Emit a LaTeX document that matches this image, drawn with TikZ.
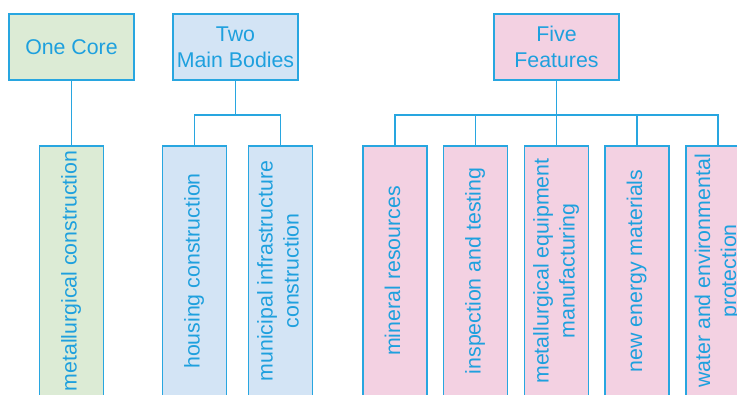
\documentclass[tikz,border=0pt]{standalone}
\usepackage{fontspec}
\setmainfont{Liberation Sans}
\usepackage{graphicx}
\definecolor{txt}{RGB}{30,160,222}
\definecolor{ln}{RGB}{40,166,224}
\definecolor{gfill}{RGB}{220,235,213}
\definecolor{bfill}{RGB}{211,228,245}
\definecolor{pfill}{RGB}{243,209,226}
\tikzset{
  topbox/.style={draw=ln, line width=0.9pt, text=txt, minimum width=93.75pt, minimum height=49.5pt, inner sep=0pt, align=center, font=\fontsize{16}{19.5}\selectfont},
  kidbox/.style={draw=ln, line width=0.9pt, text=txt, minimum width=48pt, minimum height=187.5pt, inner sep=0pt, font=\fontsize{16}{19.5}\selectfont},
  conn/.style={draw=ln, line width=0.9pt}
}
\newcommand{\vtext}[1]{\rotatebox{90}{\begin{tabular}{@{}c@{}}#1\end{tabular}}}
\begin{document}
\begin{tikzpicture}[x=0.75pt,y=-0.75pt]
\useasboundingbox (0,0) rectangle (737,394);
\clip (0,0) rectangle (737,394);
% top boxes
\node[topbox, fill=gfill] (one) at (71.5,47) {One Core};
\node[topbox, fill=bfill] (two) at (235.5,47) {Two\\Main Bodies};
\node[topbox, fill=pfill] (five) at (556.5,47) {Five\\Features};
% children
\node[kidbox, fill=gfill] (metal) at (71.5,271) {\vtext{metallurgical construction}};
\node[kidbox, fill=bfill] (house) at (194.5,271) {\vtext{housing construction}};
\node[kidbox, fill=bfill] (muni) at (280.5,271) {\vtext{municipal infrastructure\\construction}};
\node[kidbox, fill=pfill] (mine) at (395,271) {\vtext{mineral resources}};
\node[kidbox, fill=pfill] (insp) at (475.5,271) {\vtext{inspection and testing}};
\node[kidbox, fill=pfill] (equip) at (556.5,271) {\vtext{metallurgical equipment\\manufacturing}};
\node[kidbox, fill=pfill] (energy) at (637,271) {\vtext{new energy materials}};
\node[kidbox, fill=pfill] (water) at (718,271) {\vtext{water and environmental\\protection}};
% junctions
\coordinate (twoj) at (235.5,115);
\coordinate (fivej) at (556.5,115);
% connectors
\draw[conn] (one.south) -- (metal.north);
\draw[conn] (two.south) -- (twoj);
\draw[conn] (house.north) -- (house.north |- twoj) -- (muni.north |- twoj) -- (muni.north);
\draw[conn] (five.south) -- (fivej);
\draw[conn] (mine.north) -- (mine.north |- fivej) -- (water.north |- fivej) -- (water.north);
\draw[conn] (insp.north) -- (insp.north |- fivej);
\draw[conn] (equip.north) -- (fivej);
\draw[conn] (energy.north) -- (energy.north |- fivej);
\end{tikzpicture}
\end{document}
